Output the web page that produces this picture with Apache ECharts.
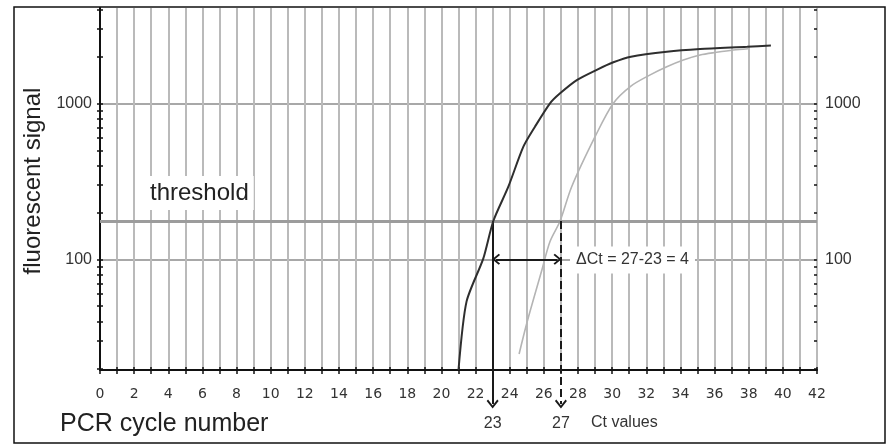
<!DOCTYPE html>
<html><head><meta charset="utf-8">
<script src="https://cdn.jsdelivr.net/npm/echarts@6/dist/echarts.min.js"></script>
<style>html,body{margin:0;padding:0;background:#fff}#c{width:887px;height:445px}</style>
</head><body><div id="c"></div>
<script>
// ---- data ----
const xTickLabels = [0,2,4,6,8,10,12,14,16,18,20,22,24,26,28,30,32,34,36,38,40,42];
const yLabelValues = [100, 1000];
const yTickValues = [20,30,40,50,60,70,80,90,100,200,300,400,500,600,700,800,900,1000,2000,3000,4000];
const sample1 = [[21.0,19.5],[21.47,53.5],[22.45,101],[23.04,176],[23.92,292],[24.8,527],[25.48,708],[26.36,1000],[26.95,1159],[27.93,1409],[29.1,1640],[30.07,1833],[31.1,1990],[33.2,2143],[35.15,2230],[37.9,2305],[39.3,2350]];
const sample2 = [[24.55,24.7],[25.0,38.9],[25.88,85],[26.36,130],[26.95,176],[27.63,292],[29.0,611],[30.07,1000],[31.1,1290],[32.2,1517],[33.2,1717],[34.17,1897],[35.15,2043],[36.12,2124],[37.1,2197],[37.96,2240]];
const threshold = 176;
const ctValues = [23, 27];
const deltaLevel = 100;

// ---- layout / styling ----
const X_MIN = 0, X_MAX = 42;
const Y_MIN = 19.5, Y_MAX = 4084, Y_EXT_MIN = 10.5, ARROW_END = 11.8;
const chevron = 'path://M6,0 L12,7 L10.6,8.4 L6,3 L1.4,8.4 L0,7 Z';
const gridColor = '#bababa';
const lbl = '"DejaVu Sans", Verdana, sans-serif';
const sans = '"Liberation Sans", Arial, sans-serif';

const chart = echarts.init(document.getElementById('c'), null, {renderer: 'canvas'});

const tickStyle = {color: '#111', width: 1.5};
const yCommon = {
  type: 'log', logBase: 10, min: Y_MIN, max: Y_MAX, gridIndex: 0,
  axisLine: {show: true, lineStyle: {color: '#111', width: 2}},
  axisTick: {show: true, length: 3, customValues: yTickValues, lineStyle: tickStyle},
  axisLabel: {customValues: yLabelValues, margin: 8, color: '#333', fontSize: 16, fontFamily: sans,
              formatter: v => String(Math.round(v))},
  splitLine: {show: false}, minorTick: {show: false}, minorSplitLine: {show: false}
};
const yInside = {
  type: 'log', logBase: 10, min: Y_MIN, max: Y_MAX, gridIndex: 0,
  axisLine: {show: false}, axisLabel: {show: false}, splitLine: {show: false},
  axisTick: {show: true, inside: true, length: 3, customValues: yTickValues, lineStyle: tickStyle}
};

const option = {
  animation: false,
  backgroundColor: '#fff',
  grid: [
    {left: 100, right: 70, top: 8, bottom: 75},
    {left: 100, right: 70, top: 8, bottom: 33}
  ],
  xAxis: [
    {type: 'value', gridIndex: 0, min: X_MIN, max: X_MAX, interval: 2,
     axisLine: {show: true, onZero: false, lineStyle: {color: '#111', width: 2}},
     axisTick: {show: true, length: 4, lineStyle: tickStyle},
     minorTick: {show: true, splitNumber: 2, length: 4, lineStyle: tickStyle},
     axisLabel: {margin: 17, color: '#333', fontSize: 14, fontFamily: lbl,
       formatter: v => xTickLabels.includes(v) ? String(v) : ''},
     splitLine: {show: true, lineStyle: {color: gridColor, width: 2}},
     minorSplitLine: {show: true, lineStyle: {color: gridColor, width: 2}}},
    {type: 'value', gridIndex: 1, min: X_MIN, max: X_MAX, show: false},
    {type: 'value', gridIndex: 0, min: X_MIN, max: X_MAX, interval: 2, position: 'bottom',
     axisLine: {show: false, onZero: false}, axisLabel: {show: false}, splitLine: {show: false},
     axisTick: {show: true, inside: true, length: 3, lineStyle: tickStyle},
     minorTick: {show: true, splitNumber: 2, length: 3, lineStyle: tickStyle}}
  ],
  yAxis: [
    Object.assign({}, yCommon, {position: 'left'}),
    Object.assign({}, yCommon, {position: 'right'}),
    {type: 'log', logBase: 10, gridIndex: 1, min: Y_EXT_MIN, max: Y_MAX, show: false},
    {type: 'log', logBase: 10, gridIndex: 0, min: Y_MIN, max: Y_MAX, position: 'left',
     axisLine: {show: false}, axisLabel: {show: false},
     axisTick: {show: false, customValues: yLabelValues},
     splitLine: {show: true, lineStyle: {color: '#a8a8a8', width: 2}}},
    Object.assign({}, yInside, {position: 'left'}),
    Object.assign({}, yInside, {position: 'right'})
  ],
  series: [
    {type: 'line', name: 'sample 1', xAxisIndex: 0, yAxisIndex: 0, data: sample1,
     showSymbol: false, symbol: 'none', smooth: 0.25, z: 5,
     lineStyle: {color: '#2e2e2e', width: 2},
     markLine: {silent: true, symbol: 'none', label: {show: false},
       lineStyle: {color: '#9c9c9c', width: 3, type: 'solid'},
       data: [{yAxis: threshold}]}},
    {type: 'line', name: 'sample 2', xAxisIndex: 0, yAxisIndex: 0, data: sample2,
     showSymbol: false, symbol: 'none', smooth: 0.3, z: 4,
     lineStyle: {color: '#b4b4b4', width: 1.6}},
    {type: 'line', name: 'annotations', xAxisIndex: 1, yAxisIndex: 2, data: [], z: 6,
     markLine: {silent: true, precision: 0,
       label: {show: true, position: 'end', distance: 12, color: '#333', fontSize: 16, fontFamily: sans,
               formatter: p => p.data && p.data.labelText ? p.data.labelText : ''},
       data: [
         [{coord: [ctValues[0], threshold], symbol: 'none',
           lineStyle: {color: '#1a1a1a', width: 2, type: 'solid'}},
          {coord: [ctValues[0], ARROW_END], symbol: chevron, symbolSize: [12, 9], labelText: String(ctValues[0])}],
         [{coord: [ctValues[1], threshold], symbol: 'none',
           lineStyle: {color: '#1a1a1a', width: 2, type: [8, 4]}},
          {coord: [ctValues[1], ARROW_END], symbol: chevron, symbolSize: [12, 9], labelText: String(ctValues[1])}],
         [{coord: [ctValues[0] + 0.2, deltaLevel], symbol: chevron, symbolSize: [11, 8],
           lineStyle: {color: '#1a1a1a', width: 2, type: 'solid'}},
          {coord: [ctValues[1] - 0.2, deltaLevel], symbol: chevron, symbolSize: [11, 8], labelText: ''}]
       ]}}
  ],
  graphic: [
    {type: 'rect', z: 0, silent: true, shape: {x: 14, y: 7, width: 871, height: 436},
     style: {fill: 'none', stroke: '#111', lineWidth: 1.5}},
    {type: 'text', z: 100, x: 33, y: 181, rotation: Math.PI / 2,
     style: {text: 'fluorescent signal', font: '24px ' + sans, fill: '#222', align: 'center', verticalAlign: 'middle'}},
    {type: 'text', z: 100, x: 60, y: 424,
     style: {text: 'PCR cycle number', font: '25px ' + sans, fill: '#222', align: 'left', verticalAlign: 'middle'}},
    {type: 'text', z: 100, x: 145, y: 193,
     style: {text: 'threshold', font: '24px ' + sans, fill: '#222', align: 'left', verticalAlign: 'middle',
             backgroundColor: '#fff', padding: [6, 5, 4, 5]}},
    {type: 'text', z: 100, x: 570, y: 260,
     style: {text: 'ΔCt = 27-23 = 4', font: '16px ' + sans, fill: '#333', align: 'left', verticalAlign: 'middle',
             backgroundColor: '#fff', padding: [6, 6, 5, 6]}},
    {type: 'text', z: 100, x: 591, y: 423,
     style: {text: 'Ct values', font: '16px ' + sans, fill: '#333', align: 'left', verticalAlign: 'middle'}}
  ]
};
chart.setOption(option);
</script>
</body></html>
